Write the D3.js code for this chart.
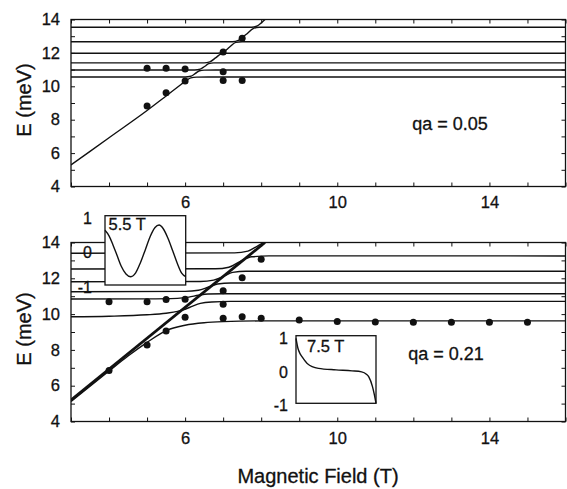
<!DOCTYPE html>
<html><head><meta charset="utf-8">
<script src="https://cdn.jsdelivr.net/npm/d3@7"></script>
<style>
body{margin:0;background:#fff}
svg{display:block}
text{font-family:"Liberation Sans",Arial,Helvetica,sans-serif;fill:#111;stroke:#111;stroke-width:0.3px}
</style>
</head><body>
<svg id="chart" width="567" height="489"></svg>
<script>
// ---------- data ----------
const xTickValues = [3,4,5,6,7,8,9,10,11,12,13,14,15,16];
const xLabelValues = [6,10,14];
const yTickValues = [4,5,6,7,8,9,10,11,12,13,14];
const yLabelValues = [4,6,8,10,12,14];

// top panel, qa = 0.05
const topC1 = [[3,5.29],[4,6.92],[5,8.55],[5.5,9.42],[5.9,10.12],[6.05,10.38],[6.15,10.5],[6.3,10.55],[6.6,10.56],[16,10.56]];
const topC2 = [[3,10.56],[6.0,10.56],[6.15,10.6],[6.27,10.77],[6.38,10.93],[6.5,10.97],[6.8,10.98],[16,10.98]];
const topC3 = [[3,10.98],[6.25,10.98],[6.4,11.03],[6.52,11.2],[6.62,11.36],[6.75,11.4],[7.0,11.4],[16,11.4]];
const topC4 = [[3,11.4],[6.5,11.4],[6.65,11.46],[6.8,11.7],[6.95,11.94],[7.1,11.98],[7.4,11.98],[16,11.98]];
const topC5 = [[3,11.98],[6.85,11.98],[7.0,12.05],[7.17,12.35],[7.33,12.63],[7.5,12.67],[7.8,12.67],[16,12.67]];
const topC6 = [[3,12.67],[7.25,12.67],[7.4,12.75],[7.6,13.1],[7.8,13.47],[7.95,13.54],[8.3,13.54],[16,13.54]];
const topC7 = [[3,13.54],[7.75,13.54],[7.9,13.62],[8.05,13.9],[8.2,14.2]];
const topDotsB = [5,5.5,6,5,5.5,6,7,7.5,7,7,7.5];
const topDotsE = [8.82,9.62,10.32,11.08,11.08,11.03,12.05,12.87,10.87,10.34,10.34];

// bottom panel, qa = 0.21
const botDiagonal = [[3,5.2],[8.1,14]];
const botC1 = [[3,5.12],[4,6.82],[4.5,7.66],[5,8.42],[5.5,9.08],[6,9.38],[6.5,9.52],[7,9.58],[8,9.62],[16,9.62]];
const botC2 = [[3,9.85],[4,9.88],[5,9.96],[5.5,10.05],[5.8,10.15],[6.0,10.27],[6.2,10.45],[6.4,10.6],[6.7,10.68],[7.2,10.71],[16,10.71]];
const botC3 = [[3,10.84],[5,10.85],[5.8,10.88],[6.1,10.95],[6.35,11.05],[6.6,11.12],[7,11.14],[16,11.14]];
const botC4 = [[3,11.25],[6.0,11.27],[6.35,11.33],[6.6,11.5],[6.85,11.68],[7.2,11.74],[16,11.74]];
const botC5 = [[3,11.81],[6.4,11.82],[6.75,11.9],[7.0,12.1],[7.25,12.33],[7.6,12.39],[16,12.39]];
const botC6 = [[3,12.52],[6.8,12.53],[7.15,12.62],[7.45,12.95],[7.75,13.2],[8.2,13.25],[16,13.25]];
const botC7 = [[3,13.4],[7.3,13.42],[7.65,13.52],[7.9,13.8],[8.1,14.05],[8.2,14.2]];
const botDotsB = [4,5,5.5,6,4,5,5.5,6,7,7,7,7.5,7.5,8,8,9,10,11,12,13,14,15];
const botDotsE = [6.85,8.27,9.06,9.82,10.69,10.69,10.81,10.83,11.31,10.55,9.77,12.03,9.85,13.06,9.77,9.67,9.58,9.56,9.55,9.55,9.55,9.54];

// insets (position across the well, normalised 0..1; wavefunction -1..1)
const insetTicks = [1,0,-1];
const inset1T = [0,0.05,0.1,0.15,0.2,0.26,0.32,0.38,0.44,0.5,0.56,0.62,0.67,0.72,0.78,0.84,0.9,0.95,1];
const inset1V = [0.58,0.42,0.15,-0.15,-0.45,-0.68,-0.76,-0.65,-0.35,0.02,0.4,0.66,0.73,0.63,0.35,-0.02,-0.4,-0.66,-0.76];
const inset2T = [0,0.025,0.05,0.075,0.14,0.28,0.5,0.7,0.82,0.88,0.91,0.955,0.98,1];
const inset2V = [0.92,0.62,0.47,0.38,0.18,0.035,-0.01,-0.04,-0.07,-0.14,-0.22,-0.5,-0.75,-1.0];

// ---------- drawing ----------
const svg = d3.select("#chart");
const ink = "#111";
const x = d3.scaleLinear().domain([3,16]).range([71,565.5]);
const defs = svg.append("defs");

function panel(cfg){
  const y = d3.scaleLinear().domain([4,14]).range([cfg.bottom, cfg.top]);
  const g = svg.append("g");
  defs.append("clipPath").attr("id", cfg.id).append("rect")
    .attr("x", x(3)).attr("y", cfg.top).attr("width", x(16)-x(3)).attr("height", cfg.bottom-cfg.top);

  const styleAxis = a => {
    a.select(".domain").remove();
    a.selectAll("line").attr("stroke", ink).attr("stroke-width", 1);
    a.selectAll("text").attr("fill", ink);
    a.attr("font-family", '"Liberation Sans",Arial,sans-serif').attr("font-size", 16.5);
  };
  g.append("g").attr("transform", `translate(0,${cfg.bottom})`)
    .call(d3.axisBottom(x).tickValues(xTickValues).tickSizeInner(-4).tickSizeOuter(0)
      .tickPadding(cfg.xPad).tickFormat(d => xLabelValues.includes(d) ? d : ""))
    .call(styleAxis);
  g.append("g").attr("transform", `translate(0,${cfg.top})`)
    .call(d3.axisTop(x).tickValues(xTickValues).tickSizeInner(-4).tickSizeOuter(0).tickFormat(""))
    .call(styleAxis);
  g.append("g").attr("transform", `translate(${x(3)},0)`)
    .call(d3.axisLeft(y).tickValues(yTickValues).tickSizeInner(-4).tickSizeOuter(0)
      .tickPadding(11).tickFormat(d => yLabelValues.includes(d) ? d : ""))
    .call(styleAxis);
  g.append("g").attr("transform", `translate(${x(16)},0)`)
    .call(d3.axisRight(y).tickValues(yTickValues).tickSizeInner(-4).tickSizeOuter(0).tickFormat(""))
    .call(styleAxis);

  g.append("rect").attr("x", x(3)).attr("y", cfg.top)
    .attr("width", x(16)-x(3)).attr("height", cfg.bottom-cfg.top)
    .attr("fill", "none").attr("stroke", ink).attr("stroke-width", 1.3);

  const line = d3.line().x(d => x(d[0])).y(d => y(d[1])).curve(d3.curveMonotoneX);
  const cg = g.append("g").attr("clip-path", `url(#${cfg.id})`);
  cg.selectAll("path.c").data(cfg.curves).join("path").attr("class","c")
    .attr("d", line).attr("fill","none").attr("stroke", ink).attr("stroke-width", 1.4);
  if (cfg.thick){
    cg.append("path").attr("d", d3.line().x(d => x(d[0])).y(d => y(d[1]))(cfg.thick))
      .attr("fill","none").attr("stroke", ink).attr("stroke-width", 2.8);
  }
  g.selectAll("circle").data(cfg.dotsB.map((b,i) => [b, cfg.dotsE[i]])).join("circle")
    .attr("cx", d => x(d[0])).attr("cy", d => y(d[1])).attr("r", 3.5).attr("fill", ink);

  g.append("text").attr("x", cfg.qaX).attr("y", cfg.qaY).attr("text-anchor","middle")
    .attr("font-size", 18).text(cfg.qa);
  g.append("text").attr("transform", `translate(31,${cfg.labY}) rotate(-90)`)
    .attr("text-anchor","middle").attr("font-size", 20).text("E (meV)");
  return y;
}

panel({id:"clipTop", top:19.5, bottom:186.5, xPad:10,
  curves:[topC1,topC2,topC3,topC4,topC5,topC6,topC7],
  dotsB:topDotsB, dotsE:topDotsE, qa:"qa = 0.05", qaX:450, qaY:130, labY:100});
panel({id:"clipBot", top:242.5, bottom:421.5, xPad:11,
  curves:[botC1,botC2,botC3,botC4,botC5,botC6,botC7], thick:botDiagonal,
  dotsB:botDotsB, dotsE:botDotsE, qa:"qa = 0.21", qaX:446, qaY:360, labY:329});

function inset(cfg){
  const ix = d3.scaleLinear().domain([0,1]).range([cfg.x0, cfg.x1]);
  const iy = d3.scaleLinear().domain([-1,1]).range([cfg.y1, cfg.y0]);
  const g = svg.append("g");
  g.append("rect").attr("x", cfg.x0).attr("y", cfg.y0).attr("width", cfg.x1-cfg.x0).attr("height", cfg.y1-cfg.y0)
    .attr("fill","#fff").attr("stroke", ink).attr("stroke-width", 1.3);
  g.append("path").attr("d", d3.line().x(d => ix(d[0])).y(d => iy(d[1])).curve(d3.curveMonotoneX)(cfg.t.map((t,i)=>[t,cfg.v[i]])))
    .attr("fill","none").attr("stroke", ink).attr("stroke-width", 1.4);
  g.selectAll("text.tk").data(insetTicks).join("text").attr("class","tk")
    .attr("x", cfg.labX).attr("y", d => iy(d)+2.5).attr("dy","0.35em").attr("text-anchor","end")
    .attr("font-size", 16).text(d => d);
  g.append("text").attr("x", cfg.x0+cfg.titleDx).attr("y", cfg.titleY).attr("font-size", 16.5).text(cfg.title);
}
inset({x0:105, x1:185.7, y0:215.7, y1:285, labX:92, t:inset1T, v:inset1V, title:"5.5 T", titleY:230, titleDx:3.5});
inset({x0:296, x1:376, y0:335.7, y1:403.3, labX:288, t:inset2T, v:inset2V, title:"7.5 T", titleY:352, titleDx:11});

svg.append("text").attr("x", 318).attr("y", 483).attr("text-anchor","middle")
  .attr("font-size", 20).text("Magnetic Field (T)");
</script>
</body></html>
